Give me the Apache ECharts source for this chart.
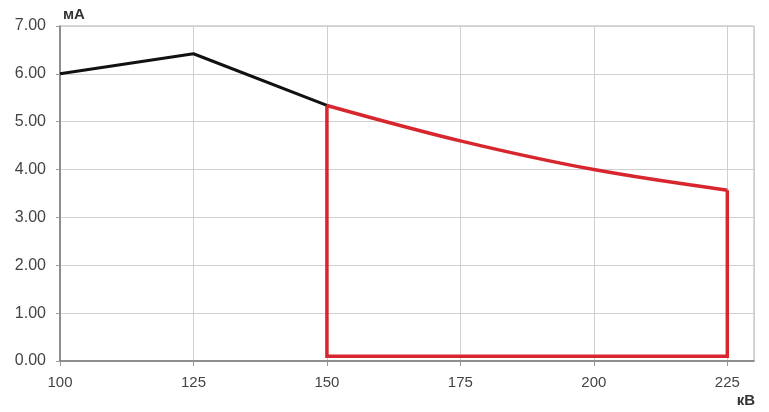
<!DOCTYPE html>
<html>
<head>
<meta charset="utf-8">
<script src="https://cdn.jsdelivr.net/npm/echarts@6/dist/echarts.min.js"></script>
<style>
  html, body { margin: 0; padding: 0; background: #fff; }
  #chart { width: 769px; height: 412px; }
</style>
</head>
<body>
<div id="chart"></div>
<script>
// kV values and mA readings
const blackKv = [100, 125, 150];
const blackMa = [6.0, 6.42, 5.34];
// red curve on top of the allowed region
const curveKv = [150, 175, 200, 225];
const curveMa = [5.34, 4.6, 4.0, 3.57];
// red outline: right side, bottom edge, left side
const edgeKv = [225, 225, 150, 150];
const edgeMa = [3.57, 0.1, 0.1, 5.34];

const chart = echarts.init(document.getElementById('chart'));
const pair = (xs, ys) => xs.map((x, i) => [x, ys[i]]);

chart.setOption({
  animation: false,
  grid: {
    left: 60, right: 15, top: 26, bottom: 51,
    show: true, borderColor: '#b5b5b5', borderWidth: 1
  },
  xAxis: {
    type: 'value',
    min: 100, max: 230, interval: 25,
    name: 'кВ',
    nameLocation: 'end',
    nameGap: 1,
    nameTextStyle: {
      color: '#333', fontSize: 15, fontWeight: 'bold', fontFamily: 'Liberation Sans',
      align: 'right', verticalAlign: 'top', padding: [32, 0, 0, 0]
    },
    axisLine: { lineStyle: { color: '#777', width: 1.5 } },
    axisTick: { show: true, length: 5, lineStyle: { color: '#999' } },
    axisLabel: {
      color: '#444', fontSize: 15, fontFamily: 'Liberation Sans', margin: 14,
      showMaxLabel: false
    },
    splitLine: { lineStyle: { color: '#cfcfcf', width: 1 } }
  },
  yAxis: {
    type: 'value',
    min: 0, max: 7, interval: 1,
    name: 'мА',
    nameLocation: 'end',
    nameGap: 4,
    nameTextStyle: { color: '#333', fontSize: 15, fontWeight: 'bold', fontFamily: 'Liberation Sans', align: 'left', padding: [0, 0, 0, 3] },
    axisLine: { show: true, lineStyle: { color: '#777', width: 1.5 } },
    axisTick: { show: true, length: 4, lineStyle: { color: '#999' } },
    axisLabel: {
      color: '#444', fontSize: 16, fontFamily: 'Liberation Sans', margin: 14,
      formatter: v => v.toFixed(2)
    },
    splitLine: { lineStyle: { color: '#cfcfcf', width: 1 } }
  },
  series: [
    {
      type: 'line',
      data: pair(blackKv, blackMa),
      symbol: 'none',
      lineStyle: { color: '#111', width: 3 },
      z: 3
    },
    {
      type: 'line',
      data: pair(curveKv, curveMa),
      symbol: 'none',
      smooth: 0.35,
      lineStyle: { color: '#d8262e', width: 3.5 },
      z: 4
    },
    {
      type: 'line',
      data: pair(edgeKv, edgeMa),
      symbol: 'none',
      lineStyle: { color: '#d8262e', width: 3.5, join: 'miter' },
      z: 4
    }
  ]
});
</script>
</body>
</html>
